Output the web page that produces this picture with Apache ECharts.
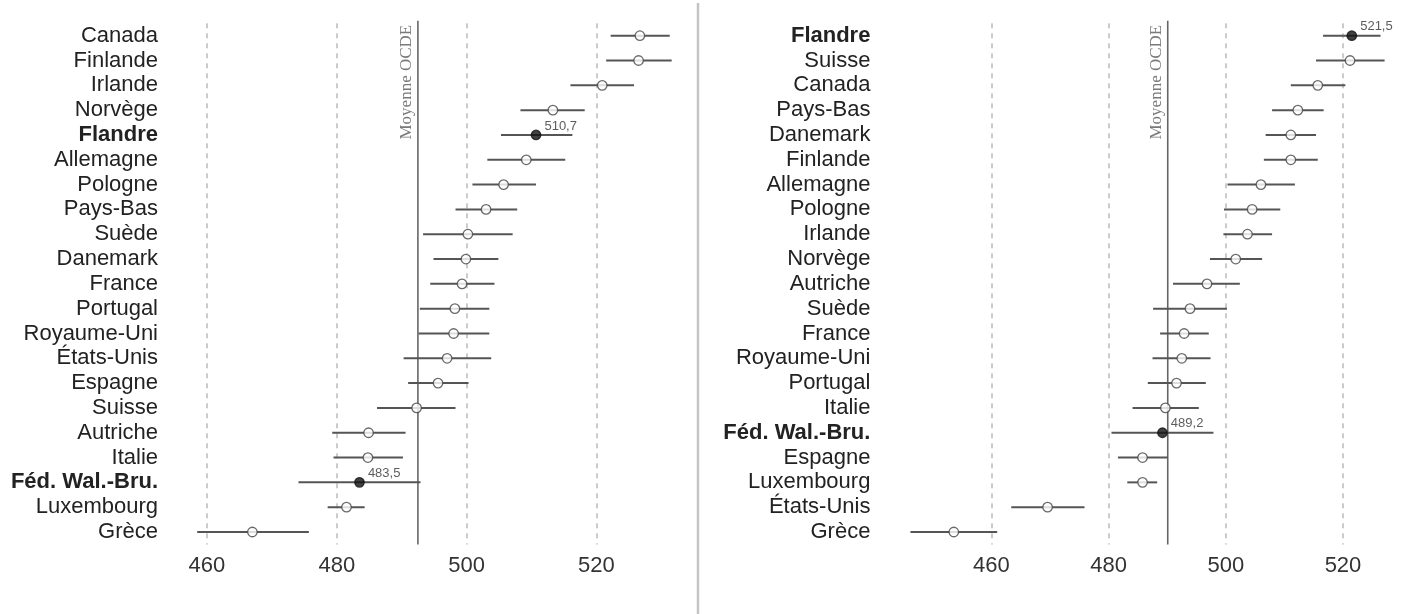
<!DOCTYPE html>
<html><head><meta charset="utf-8">
<script src="https://cdn.jsdelivr.net/npm/echarts@6/dist/echarts.min.js"></script>
<style>html,body{margin:0;padding:0;background:#fff}#c{width:1409px;height:614px}</style>
</head><body><div id="c"></div>
<script>
// ---- Left panel data ----
const leftCats = ['Canada','Finlande','Irlande','Norvège','Flandre','Allemagne','Pologne','Pays-Bas','Suède','Danemark','France','Portugal','Royaume-Uni','États-Unis','Espagne','Suisse','Autriche','Italie','Féd. Wal.-Bru.','Luxembourg','Grèce'];
const leftMean = [526.7,526.5,520.9,513.3,510.7,509.2,505.7,503.0,500.2,499.9,499.3,498.2,498.0,497.0,495.6,492.3,484.9,484.8,483.5,481.5,467.0];
const leftLow  = [522.2,521.5,516.0,508.3,505.3,503.2,500.9,498.3,493.3,494.9,494.4,492.8,492.6,490.3,491.0,486.2,479.3,479.5,474.1,478.6,458.5];
const leftHigh = [531.3,531.6,525.8,518.2,516.3,515.2,510.7,507.8,507.1,504.9,504.3,503.5,503.5,503.8,500.3,498.3,490.6,490.2,492.9,484.3,475.7];
const leftOecd = 492.5;
// ---- Right panel data ----
const rightCats = ['Flandre','Suisse','Canada','Pays-Bas','Danemark','Finlande','Allemagne','Pologne','Irlande','Norvège','Autriche','Suède','France','Royaume-Uni','Portugal','Italie','Féd. Wal.-Bru.','Espagne','Luxembourg','États-Unis','Grèce'];
const rightMean = [521.5,521.2,515.7,512.3,511.1,511.1,506.0,504.5,503.7,501.7,496.8,493.9,492.9,492.5,491.6,489.7,489.2,485.8,485.8,469.6,453.6];
const rightLow  = [516.6,515.4,511.1,507.9,506.8,506.5,500.3,499.7,499.6,497.3,491.0,487.6,488.8,487.5,486.7,484.1,480.5,481.6,483.2,463.4,446.2];
const rightHigh = [526.4,527.1,520.4,516.7,515.4,515.7,511.8,509.3,507.9,506.2,502.4,500.2,497.1,497.4,496.6,495.4,497.9,490.1,488.3,475.9,461.0];
const rightOecd = 490.1;
// ---- shared ----
const highlighted = ['Flandre','Féd. Wal.-Bru.'];
const gridTicks = [460,480,500,520];
const tickLabels = ['460','480','500','520'];
const oecdLabel = 'Moyenne OCDE';

const fmt = v => v.toFixed(1).replace('.', ',');

function yAxis(idx, cats, margin){
  return {
    type:'category', gridIndex:idx, data:cats, inverse:true,
    axisLine:{show:false}, axisTick:{show:false}, splitLine:{show:false},
    axisLabel:{
      interval:0,
      margin:margin, fontSize:22, color:'#222', fontFamily:'Liberation Sans, Arial',
      formatter: v => highlighted.includes(v) ? '{b|'+v+'}' : v,
      rich:{b:{fontWeight:'bold', fontSize:22, color:'#222', fontFamily:'Liberation Sans, Arial'}}
    }
  };
}
function xAxis(idx, min, max){
  return {
    type:'value', gridIndex:idx, min:min, max:max, interval:5,
    axisLine:{show:false}, axisTick:{show:false}, splitLine:{show:false},
    axisLabel:{
      margin:11, fontSize:22, color:'#333', fontFamily:'Liberation Sans, Arial',
      formatter: v => { const i = gridTicks.indexOf(v); return i >= 0 ? tickLabels[i] : ''; }
    }
  };
}
function seriesFor(idx, cats, mean, low, high, oecd){
  const bars = cats.map((c,i)=>[i, low[i], high[i]]);
  const pts = cats.map((c,i)=>{
    const hl = highlighted.includes(c);
    return {
      value:[mean[i], c],
      itemStyle: hl ? {color:'#111', borderColor:'#111'} : {color:'#fff', borderColor:'#444'},
      label: hl ? {show:true, formatter: fmt(mean[i]), position:'right', offset:[-2,-9], fontSize:13, color:'#333', fontFamily:'Liberation Sans, Arial'} : {show:false}
    };
  });
  return [
    {
      type:'custom', xAxisIndex:idx, yAxisIndex:idx, z:2, silent:true,
      encode:{x:0},
      data:[[oecd]],
      renderItem:(params, api)=>{
        const cs = params.coordSys;
        const x = api.coord([api.value(0), 0])[0];
        return {type:'group', children:[
          {type:'line', shape:{x1:x, y1:cs.y-2.5, x2:x, y2:cs.y+cs.height}, style:{stroke:'#666', lineWidth:1.6}},
          {type:'text', x:x-3, y:cs.y+1.5, rotation:Math.PI/2,
           style:{text:oecdLabel, align:'right', verticalAlign:'bottom', fontFamily:'Liberation Serif, Times New Roman', fontSize:17, fill:'#7a7a7a'}}
        ]};
      }
    },
    {
      type:'custom', xAxisIndex:idx, yAxisIndex:idx, z:3,
      encode:{x:[1,2], y:0},
      data:bars,
      renderItem:(params, api)=>{
        const a = api.coord([api.value(1), api.value(0)]);
        const b = api.coord([api.value(2), api.value(0)]);
        return {type:'line', shape:{x1:a[0],y1:a[1],x2:b[0],y2:b[1]}, style:{stroke:'#555', lineWidth:2}};
      },
      silent:true,
      markLine:{
        silent:true, symbol:'none', z:1,
        lineStyle:{type:[5,5], color:'#bbb', width:1.5},
        label:{show:false},
        data: gridTicks.map(t=>({xAxis:t}))
      }
    },
    {
      type:'scatter', xAxisIndex:idx, yAxisIndex:idx, z:5,
      symbol:'circle', symbolSize:9.5,
      itemStyle:{borderWidth:1.3},
      data:pts
    }
  ];
}

const chart = echarts.init(document.getElementById('c'), null, {renderer:'canvas'});
chart.setOption({
  animation:false,
  backgroundColor:'#fff',
  grid:[
    {left:174.5, right:715.25, top:23.3, bottom:69.6},
    {left:903.4, right:7.4, top:23.3, bottom:69.6}
  ],
  xAxis:[xAxis(0,455,535), xAxis(1,445,530)],
  yAxis:[yAxis(0,leftCats,16.5), yAxis(1,rightCats,33)],
  series:[].concat(
    seriesFor(0,leftCats,leftMean,leftLow,leftHigh,leftOecd),
    seriesFor(1,rightCats,rightMean,rightLow,rightHigh,rightOecd)
  ),
  graphic:[{type:'line', shape:{x1:698,y1:3,x2:698,y2:614}, style:{stroke:'#c4c4c4', lineWidth:2.5}, silent:true}]
});
</script></body></html>
